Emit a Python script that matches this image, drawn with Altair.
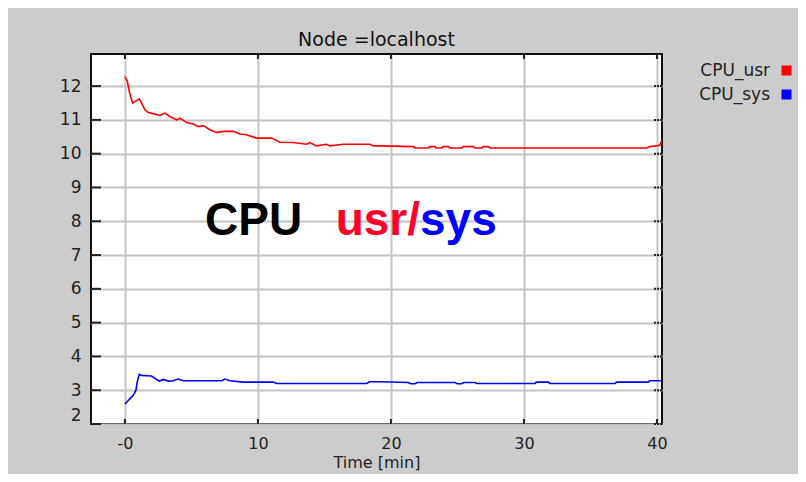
import altair as alt
import pandas as pd

# ---- data ----
usr_t = [0.00, 0.18, 0.33, 0.43, 0.58, 0.75, 1.08, 1.25, 1.50, 1.75, 2.26, 2.63, 3.01, 3.38,
         3.89, 4.14, 4.64, 5.14, 5.51, 5.89, 6.39, 6.89, 7.39, 8.14, 8.65, 9.15, 9.65, 9.90,
         11.03, 11.65, 12.66, 13.66, 13.91, 14.41, 15.16, 15.41, 16.41, 18.42, 18.67, 19.17,
         21.68, 21.80, 22.81, 22.93, 23.31, 23.38, 23.81, 23.93, 24.31, 24.44, 25.31, 25.44,
         26.19, 26.32, 26.82, 26.94, 27.32, 27.44, 39.23, 39.47, 39.98, 40.23, 40.38]
usr_v = [12.28, 12.14, 11.84, 11.69, 11.50, 11.54, 11.62, 11.50, 11.30, 11.22, 11.17, 11.13, 11.20, 11.10,
         11.00, 11.05, 10.92, 10.88, 10.80, 10.83, 10.71, 10.63, 10.66, 10.66, 10.58, 10.56, 10.49, 10.46,
         10.46, 10.34, 10.33, 10.28, 10.33, 10.23, 10.28, 10.23, 10.28, 10.28, 10.23, 10.23,
         10.21, 10.17, 10.17, 10.21, 10.21, 10.17, 10.17, 10.21, 10.21, 10.17, 10.17, 10.21,
         10.21, 10.17, 10.17, 10.21, 10.21, 10.17, 10.17, 10.21, 10.23, 10.26, 10.41]

sys_t = [0.00, 0.38, 0.63, 0.83, 0.93, 1.08, 1.25, 2.00, 2.58, 2.88, 3.26, 3.63, 4.01, 4.39,
         7.27, 7.52, 7.89, 8.89, 11.15, 11.40, 18.17, 18.42, 19.17, 21.30, 21.48, 21.80, 21.98,
         24.81, 24.98, 25.31, 25.49, 26.32, 26.44, 30.83, 30.95, 31.83, 31.95, 36.84, 36.97,
         39.35, 39.47, 40.38]
sys_v = [2.59, 2.75, 2.85, 3.00, 3.25, 3.47, 3.44, 3.42, 3.27, 3.32, 3.27, 3.28, 3.33, 3.28,
         3.28, 3.33, 3.28, 3.24, 3.24, 3.20, 3.20, 3.25, 3.25, 3.23, 3.19, 3.19, 3.23,
         3.23, 3.19, 3.19, 3.23, 3.23, 3.20, 3.20, 3.24, 3.24, 3.20, 3.20, 3.24,
         3.24, 3.28, 3.28]

series_names = ["CPU_usr", "CPU_sys"]
x_ticks = [0, 10, 20, 30, 40]
y_ticks = [2, 3, 4, 5, 6, 7, 8, 9, 10, 11, 12]
title_text = "Node =localhost"
x_title = "Time [min]"
annot_words = ["CPU", "usr/", "sys"]

# ---- build tables ----
df = pd.concat([
    pd.DataFrame({"series": series_names[0], "t": usr_t, "v": usr_v}),
    pd.DataFrame({"series": series_names[1], "t": sys_t, "v": sys_v}),
])
df["order"] = range(len(df))

W, H = 571, 370
XDOM = [-2.55, 40.38]
YDOM = [2, 12.95]

xscale = alt.Scale(domain=XDOM, nice=False, zero=False)
yscale = alt.Scale(domain=YDOM, nice=False, zero=False)

x_axis = alt.Axis(values=x_ticks, title=x_title, grid=True, ticks=False, tickSize=0,
                  domain=False, labelPadding=11, labelFontSize=16, labelFont="DejaVu Sans",
                  labelColor="#222222", titleFont="DejaVu Sans", titleFontSize=16,
                  titleFontWeight="normal", titleColor="#222222", titlePadding=3,
                  labelOverlap=False,
                  labelExpr="datum.value === 0 ? '-0' : datum.label")
y_axis = alt.Axis(values=y_ticks, title=None, grid=True, ticks=False, tickSize=0,
                  domain=False, labelPadding=10, labelFontSize=17, labelFont="DejaVu Sans",
                  labelColor="#222222", labelFlush=True, labelOverlap=False)

lines = alt.Chart(df).mark_line(strokeWidth=1.6, clip=True).encode(
    x=alt.X("t:Q", scale=xscale, axis=x_axis, title=x_title),
    y=alt.Y("v:Q", scale=yscale, axis=y_axis, title=None),
    color=alt.Color("series:N",
                    scale=alt.Scale(domain=series_names, range=["#FF0000", "#0000FF"]),
                    legend=alt.Legend(orient="none", legendX=687, legendY=8, title=None,
                                      symbolType="square", symbolSize=25, symbolStrokeWidth=5,
                                      labelAlign="right", labelOffset={"expr": "-25"}, labelFontSize=17,
                                      labelFont="DejaVu Sans", labelColor="#222222",
                                      rowPadding={"expr": "-1"}, padding=0)),
    detail="series:N",
    order="order:Q",
)

ydf = pd.DataFrame({"yt": y_ticks})
xdf = pd.DataFrame({"xt": x_ticks})
tick_col = "#222222"

left_ticks = alt.Chart(ydf).mark_rule(color=tick_col, strokeWidth=2).encode(
    y=alt.Y("yt:Q", scale=yscale, axis=y_axis, title=None), x=alt.value(0), x2=alt.value(10))
right_ticks = alt.Chart(ydf).mark_rule(color=tick_col, strokeWidth=2, strokeDash=[2, 1]).encode(
    y=alt.Y("yt:Q", scale=yscale, axis=y_axis, title=None), x=alt.value(W - 8), x2=alt.value(W))
top_ticks = alt.Chart(xdf).mark_rule(color=tick_col, strokeWidth=2).encode(
    x=alt.X("xt:Q", scale=xscale, axis=x_axis, title=x_title), y=alt.value(0), y2=alt.value(5))
bottom_ticks = alt.Chart(xdf).mark_rule(color=tick_col, strokeWidth=2).encode(
    x=alt.X("xt:Q", scale=xscale, axis=x_axis, title=x_title), y=alt.value(H - 5), y2=alt.value(H))

one = pd.DataFrame({"a": [0]})
def word(text, color, x, align):
    return alt.Chart(one).mark_text(font="Liberation Sans", fontSize=46, fontWeight="bold",
                                    align=align, baseline="alphabetic", color=color).encode(
        x=alt.value(x), y=alt.value(181), text=alt.value(text))

w1 = word(annot_words[0], "#000000", 114, "left")
w2 = word(annot_words[1], "#FF0026", 329, "right")
w3 = word(annot_words[2], "#0000FF", 329, "left")

chart = alt.layer(lines, left_ticks, right_ticks, top_ticks, bottom_ticks, w1, w2, w3).properties(
    width=W, height=H,
    title=alt.TitleParams(title_text, font="DejaVu Sans", fontSize=19, fontWeight="normal",
                          color="#111111", anchor="middle", offset={"expr": "-12"},
                          baseline="alphabetic"),
    background="#CCCCCC",
    padding={"left": 83, "top": 46, "right": 136, "bottom": 50},
    autosize=alt.AutoSizeParams(type="none"),
).configure_view(fill="white", stroke="#111111", strokeWidth=2).configure_axis(
    gridColor="#C4C4C4", gridWidth=2
)

chart.save("out.html", embed_options={"renderer": "svg", "actions": False})
